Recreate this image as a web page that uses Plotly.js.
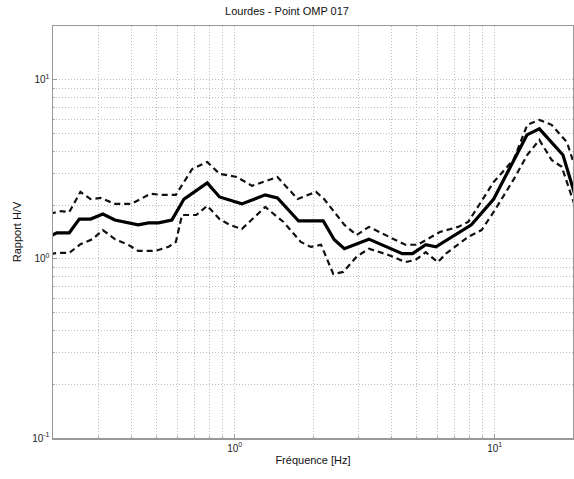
<!DOCTYPE html>
<html>
<head>
<meta charset="utf-8">
<script src="https://cdn.plot.ly/plotly-3.0.1.min.js"></script>
<style>html,body{margin:0;padding:0;background:#fff;}#chart{width:574px;height:479px;}</style>
</head>
<body>
<div id="chart"></div>
<script>
// Mean H/V curve
const freqMean = [0.195,0.207,0.231,0.2525,0.279,0.311,0.346,0.425,0.466,0.509,0.573,0.638,0.784,0.874,1.065,1.31,1.46,1.76,2.19,2.415,2.64,3.28,4.41,4.83,5.43,5.94,8.13,9.91,13.3,14.85,18.3,20.9];
const meanHV   = [1.34,1.40,1.40,1.67,1.67,1.78,1.65,1.55,1.59,1.59,1.65,2.16,2.66,2.22,2.03,2.28,2.19,1.63,1.63,1.28,1.14,1.29,1.07,1.07,1.20,1.17,1.55,2.16,4.93,5.33,3.81,2.00];
// Upper bound (mean + std)
const freqUpper = [0.195,0.211,0.231,0.255,0.279,0.305,0.346,0.40,0.474,0.523,0.594,0.686,0.784,0.874,1.018,1.165,1.459,1.746,2.054,2.207,2.642,2.943,3.28,3.925,4.53,5.05,5.43,6.15,7.23,7.91,9.91,11.86,13.34,14.85,16.55,18.94,20.9];
const upperHV   = [1.78,1.85,1.83,2.37,2.16,2.19,2.03,2.03,2.31,2.28,2.28,3.18,3.48,2.99,2.87,2.56,2.87,2.16,2.37,2.16,1.55,1.36,1.51,1.33,1.20,1.20,1.28,1.415,1.51,1.61,2.69,3.62,5.61,5.98,5.61,4.50,2.90];
// Lower bound (mean - std)
const freqLower = [0.195,0.207,0.231,0.255,0.284,0.311,0.346,0.389,0.425,0.496,0.557,0.594,0.627,0.711,0.784,0.874,0.956,1.065,1.31,1.54,1.794,1.963,2.148,2.393,2.618,2.943,3.28,3.925,4.53,4.96,5.43,6.04,6.49,7.91,8.9,9.91,11.86,13.34,14.85,16.55,18.1,20.9];
const lowerHV   = [1.066,1.08,1.08,1.21,1.29,1.45,1.29,1.20,1.11,1.11,1.17,1.245,1.76,1.76,1.98,1.67,1.55,1.47,1.95,1.61,1.245,1.167,1.20,0.824,0.846,1.03,1.14,1.05,0.96,0.987,1.09,0.96,1.07,1.33,1.45,1.83,2.80,3.81,4.62,3.57,3.27,1.76];

const xMajor = [1,10];
const xMajorText = ['10<sup>0</sup>','10<sup>1</sup>'];
const xMinor = [0.2,0.3,0.4,0.5,0.6,0.7,0.8,0.9,2,3,4,5,6,7,8,9,20];
const yMajor = [0.1,1,10];
const yMajorText = ['10<sup>-1</sup>','10<sup>0</sup>','10<sup>1</sup>'];
const yMinor = [0.2,0.3,0.4,0.5,0.6,0.7,0.8,0.9,2,3,4,5,6,7,8,9,20];

const font = 'Arial, "Liberation Sans", sans-serif';
const traces = [
  {x: freqUpper, y: upperHV, mode:'lines', line:{color:'#111', width:2.2, dash:'6px,4px'}, hoverinfo:'skip'},
  {x: freqLower, y: lowerHV, mode:'lines', line:{color:'#111', width:2.2, dash:'6px,4px'}, hoverinfo:'skip'},
  {x: freqMean, y: meanHV, mode:'lines', line:{color:'#000', width:3.2}, hoverinfo:'skip'}
];
const gridStyle = {showgrid:true, gridcolor:'#bdbdbd', griddash:'1px,2px', gridwidth:1};
function axis(range, major, majorText, minor, title, standoff) {
  return Object.assign({
    type:'log', range:range,
    showline:true, linecolor:'#999', linewidth:1.5, mirror:true, zeroline:false,
    ticks:'inside', ticklen:4, tickcolor:'#999',
    tickmode:'array', tickvals:major, ticktext:majorText,
    tickfont:{family:font, size:10, color:'#222'},
    minor:Object.assign({tickmode:'array', tickvals:minor, ticks:'inside', ticklen:2, tickcolor:'#aaa'}, gridStyle),
    title:{text:title, font:{family:font, size:11, color:'#111'}, standoff:standoff}
  }, gridStyle);
}
const layout = {
  width:574, height:479,
  margin:{l:53, r:1, t:26, b:41},
  paper_bgcolor:'#fff', plot_bgcolor:'#fff',
  showlegend:false,
  title:{text:'Lourdes - Point OMP 017', font:{family:font, size:11, color:'#111'}, x:0.5, xanchor:'center', y:0.985, yanchor:'top'},
  xaxis: axis([Math.log10(0.2), Math.log10(20)], xMajor, xMajorText, xMinor, 'Fréquence [Hz]', 4),
  yaxis: axis([Math.log10(0.1), Math.log10(20)], yMajor, yMajorText, yMinor, 'Rapport H/V', 8)
};
Plotly.newPlot('chart', traces, layout, {staticPlot:true, displayModeBar:false});
</script>
</body>
</html>
